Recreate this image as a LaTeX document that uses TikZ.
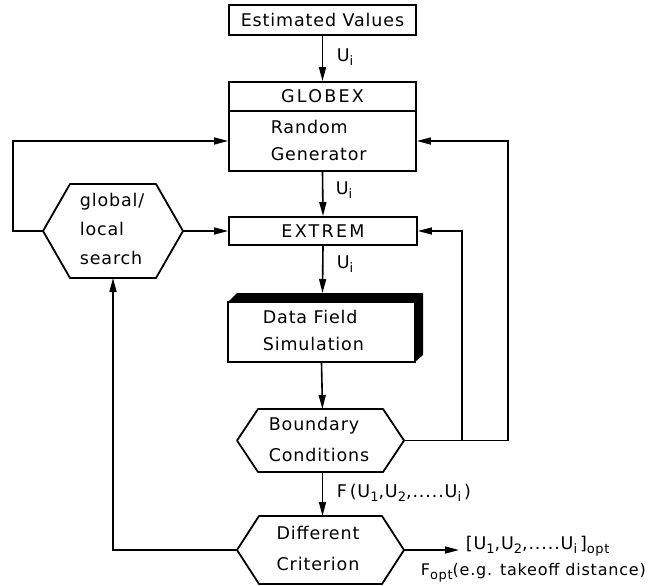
\documentclass[tikz,border=0pt]{standalone}
\usepackage{fontspec}
\setmainfont{DejaVu Sans}[LetterSpace=5]
\newfontfamily\capsfont{DejaVu Sans}[LetterSpace=13]
\usetikzlibrary{arrows.meta}
\newcommand\lo[1]{\raisebox{-0.25em}{\fontsize{13}{13}\selectfont #1}}
\begin{document}
\begin{tikzpicture}[x=1pt,y=-1pt,line width=1.6pt,
  every node/.style={font=\fontsize{17.5}{27}\selectfont, inner sep=0pt},
  box/.style={draw, line width=1.8pt, minimum width=187pt},
  hex/.style={draw, line width=1.8pt, line join=round},
  txt/.style={align=left, anchor=west},
  arr/.style={-{Triangle[length=14pt,width=7pt]}},
  lbl/.style={anchor=west},
  small/.style={font=\fontsize{16}{20}\selectfont}]
\useasboundingbox (0,0) rectangle (648,586);

% boxes
\node[box, minimum height=30pt] (ev) at (322.5,20) {Estimated Values};
\node[box, minimum height=29pt, font=\fontsize{17.5}{27}\capsfont] (glo) at (322.5,96.5) {GLOBEX};
\node[box, minimum height=60pt] (rg) at (322.5,141) {};
\node[txt] (rgt) at (270,140) {Random\\Generator};
\node[box, minimum height=28pt, minimum width=188pt, font=\fontsize{17.5}{27}\capsfont] (ex) at (323,231) {EXTREM};

% data field (3D box)
\node[box, minimum height=60pt] (df) at (321.5,332) {};
\fill[line join=round] (228,302) -- (237,293) -- (423,293) -- (415,302) -- cycle;
\fill[line join=round] (415,302) -- (423,293) -- (423,355) -- (415,362) -- cycle;
\coordinate (dftop) at (322.5,293);
\node[txt] (dft) at (262,330) {Data Field\\Simulation};

% boundary conditions hexagon
\coordinate (bcL) at (237,440.5);
\coordinate (bcR) at (404,440.5);
\coordinate (bcT) at (322.5,409);
\coordinate (bcB) at (322.5,472);
\draw[hex] (bcL) -- (258,409) -- (383,409) -- (bcR) -- (383,472) -- (258,472) -- cycle;
\node[txt, font=\fontsize{17.5}{31}\selectfont] (bct) at (268,439) {Boundary\\Conditions};

% different criterion hexagon
\coordinate (dcL) at (237,550);
\coordinate (dcR) at (404,550);
\coordinate (dcT) at (322.5,516);
\draw[hex] (dcL) -- (259,516) -- (382,516) -- (dcR) -- (382,584) -- (259,584) -- cycle;
\node[align=center, font=\fontsize{17.5}{31}\selectfont] (dct) at (318,548) {Different\\Criterion};

% global/local search hexagon
\coordinate (glL) at (43,231);
\coordinate (glR) at (183,231);
\coordinate (glB) at (113,278);
\draw[hex] (glL) -- (70,184) -- (156,184) -- (glR) -- (156,278) -- (70,278) -- cycle;
\node[txt, font=\fontsize{17.5}{29}\selectfont] (glt) at (79,229) {global/\\local\\search};

% main flow
\draw[arr] (ev.south) -- (glo.north);
\node[lbl] (u1) at (336,57) {U\lo{i}};
\draw[arr] (rg.south) -- (ex.north);
\node[lbl] (u2) at (335,190) {U\lo{i}};
\draw[arr] (ex.south) -- (dftop);
\node[lbl] (u3) at (336,264) {U\lo{i}};
\draw[arr] (df.south) -- (bcT);
\draw[arr] (bcB) -- (dcT);
\node[lbl] (fl) at (336,493) {F\,(U\lo{1},U\lo{2},.....U\lo{i}\,)};

% output
\coordinate (outE) at (459,550);
\draw[arr] (dcR) -- (outE);
\node[lbl] (o1) at (465,546) {[U\lo{1},U\lo{2},.....U\lo{i}\,]\lo{opt}};
\node[lbl, small] (o2) at (420,573) {F\lo{opt}(e.g. takeoff distance)};

% feedback loops
\coordinate (j1) at (462,440.5);
\coordinate (j2) at (508,440.5);
\draw[arr] (bcR) -- (j1) |- (ex.east);
\draw[arr] (j1) -- (j2) |- (rg.east);
\coordinate (lc) at (13,231);
\draw[arr] (glL) -- (lc) |- (rg.west);
\draw[arr] (glR) -- (ex.west);
\coordinate (bl) at (113,550);
\draw[arr] (dcL) -- (bl) -- (glB);
\end{tikzpicture}
\end{document}
